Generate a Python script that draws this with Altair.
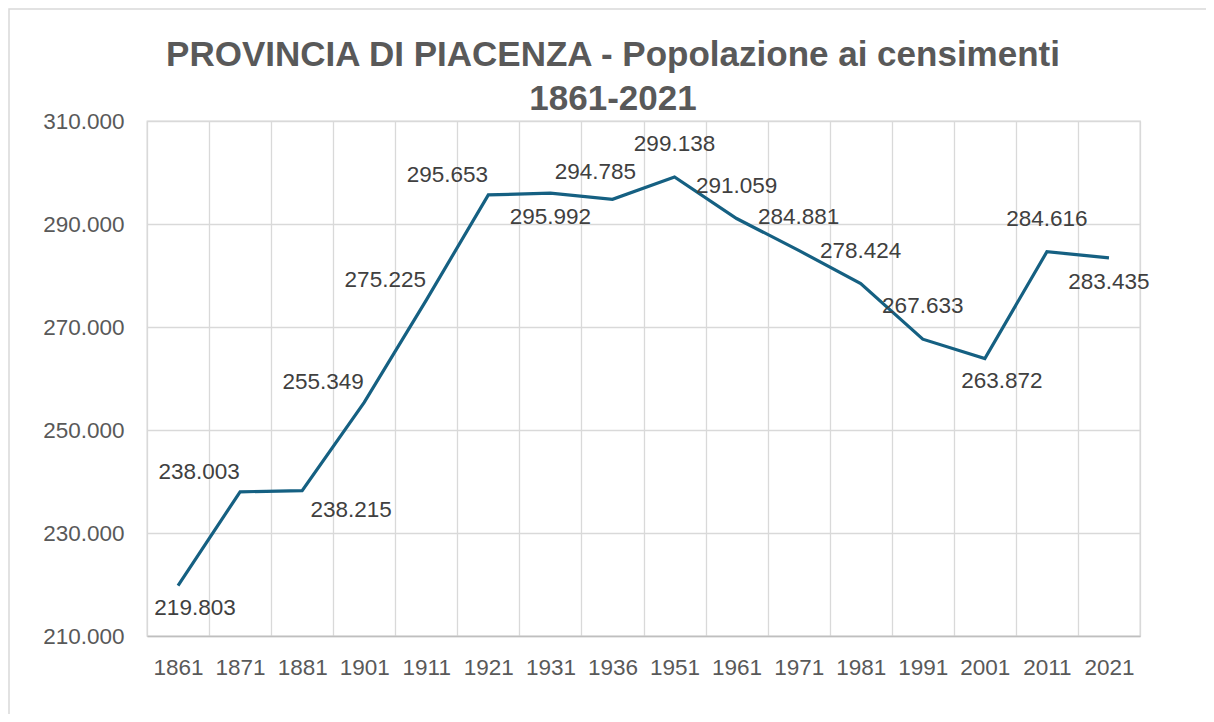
import altair as alt
import pandas as pd

# ---- data ----
anni = ["1861", "1871", "1881", "1901", "1911", "1921", "1931", "1936",
        "1951", "1961", "1971", "1981", "1991", "2001", "2011", "2021"]
popolazione = [219803, 238003, 238215, 255349, 275225, 295653, 295992, 294785,
               299138, 291059, 284881, 278424, 267633, 263872, 284616, 283435]
# where each data label sits relative to its point (Excel-style label placement)
posizione_etichetta = ["below_right", "left", "right", "left", "left", "left",
                       "below", "above_left", "above", "above", "above", "above",
                       "above", "below_right", "above", "below"]
y_ticks = [210000, 230000, 250000, 270000, 290000, 310000]
titolo = ["PROVINCIA DI PIACENZA - Popolazione ai censimenti", "1861-2021"]

df = pd.DataFrame({"anno": anni, "pop": popolazione, "pos": posizione_etichetta})

# label placement styles (dx, dy in px)
LABEL_OFFSETS = {
    "above": (0, -33),
    "below": (0, 24),
    "below_right": (17, 22),
    "right": (49, 19),
    "left": (-41, -20),
    "above_left": (-17, -27),
}

FONT = "Liberation Sans"
W, H = 993, 515

x_scale = alt.Scale(type="band", paddingInner=0, paddingOuter=0)
y_scale = alt.Scale(domain=[210000, 310000], nice=False, zero=False)

x_axis = alt.Axis(
    title=None, labelAngle=0, ticks=False, grid=True, tickBand="extent",
    gridColor="#d9d9d9", gridWidth=1.3, domainColor="#bfbfbf", domainWidth=1.5,
    labelFont=FONT, labelFontSize=22.5, labelColor="#595959", labelPadding=20,
    labelOverlap=False,
)
y_axis = alt.Axis(
    title=None, values=y_ticks, ticks=False, domain=False, grid=True,
    gridColor="#d9d9d9", gridWidth=1.3,
    labelFont=FONT, labelFontSize=22.5, labelColor="#595959", labelPadding=23,
    labelExpr="replace(format(datum.value, ','), ',', '.')",
)

base = alt.Chart(df)

line = base.mark_line(color="#156082", strokeWidth=3.2).encode(
    x=alt.X("anno:N", sort=anni, bandPosition=0.5, scale=x_scale, axis=x_axis),
    y=alt.Y("pop:Q", scale=y_scale, axis=y_axis),
)

label_layers = []
for pos, (dx, dy) in LABEL_OFFSETS.items():
    label_layers.append(
        base.transform_filter(alt.datum.pos == pos)
        .transform_calculate(lab="replace(format(datum.pop, ','), ',', '.')")
        .mark_text(font=FONT, fontSize=22.5, color="#404040", align="center",
                   baseline="middle", dx=dx, dy=dy)
        .encode(
            x=alt.X("anno:N", sort=anni, bandPosition=0.5, scale=x_scale, axis=x_axis),
            y=alt.Y("pop:Q", scale=y_scale, axis=y_axis),
            text="lab:N",
        )
    )

# chart frame (decoration)
frame = alt.Chart(alt.Data(values=[{"f": 1}])).mark_rect(
    fill=None, stroke="#d9d9d9", strokeWidth=1.5
).encode(
    x=alt.value(-138), x2=alt.value(W + 90),
    y=alt.value(-112), y2=alt.value(H + 100),
)

# two-line chart title, drawn as text
title_layers = []
for i, riga in enumerate(titolo):
    title_layers.append(
        alt.Chart(alt.Data(values=[{"t": riga}])).mark_text(
            font=FONT, fontSize=35, fontWeight="bold", color="#595959",
            align="center", baseline="alphabetic",
        ).encode(
            text="t:N",
            x=alt.value(466),
            y=alt.value(-55 + 44 * i),
        )
    )

chart = alt.layer(frame, line, *label_layers, *title_layers).properties(
    width=W, height=H,
    autosize=alt.AutoSizeParams(type="none"),
    padding={"left": 139, "top": 113, "right": 66, "bottom": 78},
).configure_view(stroke="#d9d9d9", strokeWidth=1.3)

chart.save("out.html", embed_options={"renderer": "svg", "actions": False})
